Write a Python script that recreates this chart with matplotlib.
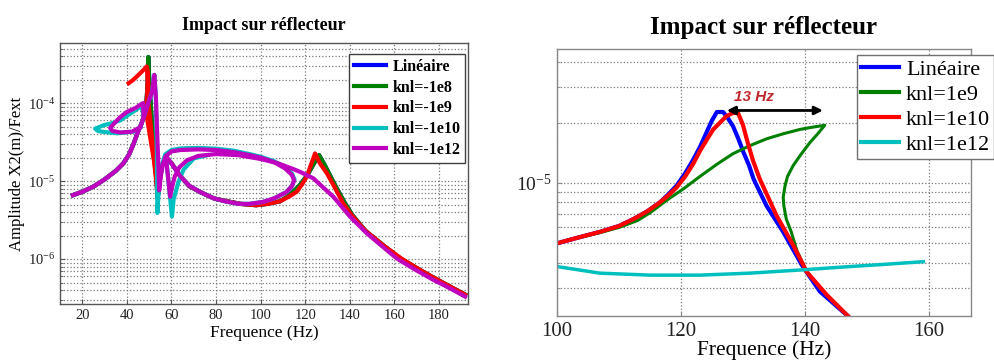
#!/usr/bin/env python3
"""
Impact sur reflecteur : amplitude X2/Fext vs frequence (two panels)
"""

import matplotlib
matplotlib.use('Agg')
import matplotlib.pyplot as plt
from matplotlib.ticker import NullFormatter, NullLocator, LogLocator
from matplotlib.lines import Line2D

plt.rcParams['font.family'] = ['Liberation Serif', 'DejaVu Serif']
plt.rcParams['mathtext.fontset'] = 'custom'
plt.rcParams['mathtext.rm'] = 'Liberation Serif'
plt.rcParams['mathtext.it'] = 'Liberation Serif:italic'
plt.rcParams['mathtext.bf'] = 'Liberation Serif:bold'

# ---------------- left panel data (knl negative) ----------------
left_labels = ['Linéaire', 'knl=-1e8', 'knl=-1e9', 'knl=-1e10', 'knl=-1e12']

# common rising part, below the first resonance
rise_f = [15.8, 20, 25, 30, 35, 38.5, 41, 43, 45, 46.5, 47.5, 48.5]
rise_a = [6.6e-6, 7.3e-6, 8.5e-6, 1.05e-5, 1.35e-5, 1.7e-5, 2.2e-5, 3.0e-5,
          4.3e-5, 5.4e-5, 6.6e-5, 8.0e-5]

# linear / knl=-1e8 (nearly the same path)
lin_f = [49.2, 49.6, 50.1, 51.0, 52.2, 53.3, 53.8, 54.5, 55.8, 57.5, 60, 64,
         68, 73, 79, 85, 91, 98, 103, 108.7, 113, 117.5, 121, 124, 126.2,
         128.5, 131, 134, 137.5, 141, 147, 155, 163, 172, 181, 191.7]
lin_a = [1.6e-4, 3.9e-4, 1.8e-4, 7e-5, 2.5e-5, 1e-5, 6e-6, 9e-6, 1.6e-5,
         2.0e-5, 1.7e-5, 1.15e-5, 8.6e-6, 7.2e-6, 6.0e-6, 5.5e-6, 5.1e-6,
         4.9e-6, 5.1e-6, 5.5e-6, 6.6e-6, 8.8e-6, 1.2e-5, 1.7e-5, 2.15e-5,
         1.65e-5, 1.2e-5, 8.2e-6, 5.4e-6, 3.7e-6, 2.3e-6, 1.5e-6, 1.0e-6,
         7.1e-7, 5.1e-7, 3.5e-7]

# knl=-1e9
red_top_f = [40.8, 42.5, 44.5, 46.5, 48.2, 48.9, 49.4, 49.6, 49.7, 50.5, 51.5,
             52.6, 53.5, 54.2]
red_top_a = [1.8e-4, 1.95e-4, 2.2e-4, 2.5e-4, 2.8e-4, 2.95e-4, 2.4e-4, 1.5e-4,
             1.0e-4, 6e-5, 3e-5, 1.4e-5, 8e-6, 8e-6]
red_leg_f = [48.5, 49.1, 49.3, 49.2]
red_leg_a = [8.0e-5, 1.3e-4, 2.0e-4, 2.6e-4]
red_f = [54.2, 55.8, 57.5, 60, 64, 68, 73, 79, 85, 91, 98, 103, 108.7, 113,
         116.2, 118.5, 120.7, 122.5, 124.4, 126.5, 129.7, 133, 137.1, 141, 147,
         155, 163, 172, 181, 191.7]
red_a = [8e-6, 1.6e-5, 2.0e-5, 1.7e-5, 1.15e-5, 8.6e-6, 7.2e-6, 6.0e-6,
         5.5e-6, 5.1e-6, 4.9e-6, 5.1e-6, 5.5e-6, 6.4e-6, 7.3e-6, 9.0e-6,
         1.14e-5, 1.6e-5, 2.26e-5, 1.7e-5, 1.26e-5, 8.5e-6, 5.1e-6, 3.6e-6,
         2.3e-6, 1.5e-6, 1.02e-6, 7.1e-7, 5.1e-7, 3.5e-7]

# knl=-1e12 (magenta)
mag_f = [49.3, 50.3, 51.3, 52.3, 53.0, 53.6, 54.2, 54.5, 55.3, 56.3, 57.5, 60,
         64, 72, 80, 88, 95, 100, 106, 111, 114, 115, 114, 111.5, 106, 101, 95,
         90, 84, 79, 73, 68, 64, 60.5, 58]
mag_a = [9.5e-5, 1.15e-4, 1.4e-4, 2.3e-4, 1.2e-4, 4e-5, 1.4e-5, 7.6e-6,
         1.2e-5, 1.7e-5, 2.1e-5, 2.4e-5, 2.5e-5, 2.55e-5, 2.5e-5, 2.35e-5,
         2.15e-5, 2.0e-5, 1.75e-5, 1.45e-5, 1.2e-5, 1.02e-5, 8.6e-6, 7.2e-6,
         6.0e-6, 5.4e-6, 5.1e-6, 5.1e-6, 5.5e-6, 6.0e-6, 7.2e-6, 8.7e-6,
         1.15e-5, 1.6e-5, 2.0e-5]
mag_tail_f = [57.5, 58.5, 59.4, 60.3, 61.5, 63.5, 67, 72, 80, 90, 100, 108,
              114, 118, 123.7, 128, 132.6, 140.1, 147.6, 154, 161, 169, 177.5,
              185, 191.7]
mag_tail_a = [2.0e-5, 1.1e-5, 6.3e-6, 8.5e-6, 1.15e-5, 1.5e-5, 1.85e-5,
              2.1e-5, 2.22e-5, 2.15e-5, 1.92e-5, 1.68e-5, 1.45e-5, 1.3e-5,
              1.08e-5, 8.3e-6, 6.3e-6, 3.5e-6, 2.14e-6, 1.5e-6, 1.02e-6,
              7.4e-7, 5.4e-7, 4.2e-7, 3.3e-7]
mag_loop_f = [47.5, 47.2, 44, 40, 37, 34.8, 32.5, 33.5, 37, 42.3, 46]
mag_loop_a = [6.6e-5, 1.0e-4, 8.7e-5, 7.7e-5, 6.6e-5, 5.7e-5, 4.8e-5, 4.4e-5,
              4.2e-5, 4.3e-5, 4.9e-5]

# knl=-1e10 (cyan)
cya_f = [49.3, 50.3, 51.3, 52.3, 53.0, 53.4, 53.7, 54.3, 55.0, 56.0, 57.2, 60,
         64, 72, 80, 88, 95, 100, 106, 111, 114, 115.2, 114, 111.5, 106, 101,
         95, 90, 84, 79, 73, 68, 64, 60.5, 58]
cya_a = [9.5e-5, 1.15e-4, 1.4e-4, 2.3e-4, 1.2e-4, 3e-5, 3.9e-6, 8e-6, 1.25e-5,
         1.7e-5, 2.2e-5, 2.5e-5, 2.62e-5, 2.66e-5, 2.6e-5, 2.45e-5, 2.22e-5,
         2.05e-5, 1.8e-5, 1.5e-5, 1.25e-5, 1.05e-5, 8.6e-6, 7.2e-6, 6.0e-6,
         5.4e-6, 5.1e-6, 5.1e-6, 5.5e-6, 6.0e-6, 7.2e-6, 8.7e-6, 1.15e-5,
         1.6e-5, 2.0e-5]
cya_tail_f = [57.5, 58.8, 60.2, 61.0, 61.7, 63.0, 65.4, 70, 76]
cya_tail_a = [2.1e-5, 9e-6, 3.5e-6, 6e-6, 6.9e-6, 9.5e-6, 1.4e-5, 1.95e-5,
              2.15e-5]
cya_loop_f = [47.5, 46.7, 42, 37, 33, 29.5, 25.8, 27, 28.8, 35.5, 43, 46]
cya_loop_a = [6.6e-5, 9.2e-5, 7.5e-5, 6.0e-5, 5.5e-5, 5.2e-5, 4.7e-5, 4.4e-5,
              4.3e-5, 4.1e-5, 4.3e-5, 4.9e-5]

# ---------------- right panel data (knl positive) ----------------
right_labels = ['Linéaire', 'knl=1e9', 'knl=1e10', 'knl=1e12']

r_lin_f = [100, 103, 106.9, 110, 112.3, 114.5, 116.6, 118, 119.3, 120.7, 122,
           123.1, 124.1, 125, 125.8, 126.8, 127.6, 128.4, 129.2, 130.1, 131,
           131.7, 133.8, 136.5, 139.5, 142.4, 146.7, 148.5]
r_lin_a = [5.0e-6, 5.3e-6, 5.7e-6, 6.1e-6, 6.6e-6, 7.2e-6, 8.0e-6, 8.8e-6,
           9.7e-6, 1.12e-5, 1.31e-5, 1.52e-5, 1.78e-5, 2.05e-5, 2.26e-5,
           2.26e-5, 2.1e-5, 1.92e-5, 1.68e-5, 1.42e-5, 1.22e-5, 1.05e-5,
           7.7e-6, 5.7e-6, 3.9e-6, 2.88e-6, 2.2e-6, 1.95e-6]

r_k9_f = [100, 103, 106.9, 110, 113, 115, 117.7, 120.5, 123.1, 125.8, 128.4,
          131, 133.8, 136.5, 139.2, 141.3, 143.2, 142, 140.8, 139.3, 138.1,
          137.2, 136.8, 136.5, 136.6, 137, 137.8, 138.7, 140.3, 143, 146.7,
          148.5]
r_k9_a = [5.0e-6, 5.3e-6, 5.65e-6, 6.0e-6, 6.5e-6, 7.1e-6, 8.2e-6, 9.4e-6,
          1.08e-5, 1.24e-5, 1.4e-5, 1.53e-5, 1.66e-5, 1.76e-5, 1.85e-5,
          1.9e-5, 1.94e-5, 1.75e-5, 1.59e-5, 1.38e-5, 1.22e-5, 1.08e-5,
          9.7e-6, 8.5e-6, 7.7e-6, 6.6e-6, 5.7e-6, 4.6e-6, 3.6e-6, 2.88e-6,
          2.2e-6, 1.95e-6]

r_k10_f = [100, 103, 106.9, 110, 112.3, 114.5, 116.6, 118, 119.3, 120.7, 122,
           123.1, 124.2, 125.2, 126.3, 127.3, 128.3, 129.2, 130, 130.6, 131.6,
           132.7, 135.4, 138.1, 140.3, 143.5, 147, 148.5]
r_k10_a = [5.0e-6, 5.3e-6, 5.7e-6, 6.1e-6, 6.6e-6, 7.2e-6, 8.0e-6, 8.7e-6,
           9.5e-6, 1.08e-5, 1.25e-5, 1.45e-5, 1.65e-5, 1.85e-5, 2.0e-5,
           2.15e-5, 2.23e-5, 2.24e-5, 1.95e-5, 1.66e-5, 1.3e-5, 1.05e-5,
           6.9e-6, 4.9e-6, 3.6e-6, 2.77e-6, 2.16e-6, 1.95e-6]

r_k12_f = [100, 106.9, 115, 123.1, 131.1, 139.2, 147.3, 153, 159.1]
r_k12_a = [3.83e-6, 3.55e-6, 3.47e-6, 3.47e-6, 3.55e-6, 3.68e-6, 3.83e-6,
           3.93e-6, 4.05e-6]

shift_start = 127.4
shift_end = 142.9
shift_level = 2.3e-5
shift_text = '13 Hz'

# MATLAB-like colours
C_BLUE = '#0000FF'
C_GREEN = '#008000'
C_RED = '#FF0000'
C_CYAN = '#00BFBF'
C_MAG = '#BF00BF'


def style_axes(ax, spine_color, tick_size):
    ax.set_yscale('log')
    ax.yaxis.set_minor_locator(LogLocator(base=10, subs=range(2, 10)))
    ax.yaxis.set_minor_formatter(NullFormatter())
    ax.xaxis.set_minor_locator(NullLocator())
    ax.grid(True, which='both', linestyle=':', color='#7a7a7a', linewidth=0.9)
    ax.tick_params(which='both', direction='in', colors=spine_color,
                   labelcolor='#222222', labelsize=tick_size)
    for s in ax.spines.values():
        s.set_color(spine_color)
        s.set_linewidth(1.0)


fig = plt.figure(figsize=(9.95, 3.63), dpi=100)

# ---------------- left panel ----------------
ax1 = fig.add_axes([60 / 995, 59 / 363, 408 / 995, 261 / 363])
style_axes(ax1, '#555555', 10.5)
lw = 3.0
ax1.plot(rise_f + lin_f, rise_a + lin_a, color=C_BLUE, lw=lw)
ax1.plot(rise_f + lin_f, rise_a + lin_a, color=C_GREEN, lw=lw)
ax1.plot(rise_f + red_f[:1], rise_a + red_a[:1], color=C_RED, lw=lw)
ax1.plot(red_leg_f, red_leg_a, color=C_RED, lw=lw)
ax1.plot(red_top_f, red_top_a, color=C_RED, lw=lw)
ax1.plot(red_f, red_a, color=C_RED, lw=lw)
ax1.plot(rise_f + cya_f, rise_a + cya_a, color=C_CYAN, lw=lw)
ax1.plot(cya_tail_f, cya_tail_a, color=C_CYAN, lw=lw)
ax1.plot(cya_loop_f, cya_loop_a, color=C_CYAN, lw=lw)
ax1.plot(mag_tail_f, mag_tail_a, color=C_MAG, lw=lw)
ax1.plot(rise_f + mag_f, rise_a + mag_a, color=C_MAG, lw=lw)
ax1.plot(mag_loop_f, mag_loop_a, color=C_MAG, lw=lw)

ax1.set_xlim(10, 193)
ax1.set_ylim(2.65e-7, 5.9e-4)
ax1.set_xticks(range(20, 181, 20))
ax1.set_title('Impact sur réflecteur', fontsize=13, fontweight='bold', pad=9)
ax1.set_xlabel('Frequence (Hz)', fontsize=12.5, labelpad=2)
ax1.set_ylabel('Amplitude X2(m)/Fext', fontsize=12, labelpad=2)

handles1 = [Line2D([], [], color=c, lw=lw)
            for c in [C_BLUE, C_GREEN, C_RED, C_CYAN, C_MAG]]
ax1.legend(handles1, left_labels, loc='upper right',
           bbox_to_anchor=(0.993, 0.958),
           prop={'family': 'Liberation Serif', 'weight': 'bold', 'size': 11.5},
           frameon=True, fancybox=False, edgecolor='#404040', framealpha=1,
           handlelength=2.0, handletextpad=0.4, labelspacing=0.3,
           borderpad=0.3, borderaxespad=0)

# ---------------- right panel ----------------
ax2 = fig.add_axes([557 / 995, 47 / 363, 414 / 995, 267 / 363])
style_axes(ax2, '#888888', 15)
ax2.tick_params(axis='x', pad=4)
ax2.tick_params(axis='y', labelsize=14)
ax2.plot(r_lin_f, r_lin_a, color=C_BLUE, lw=3.0)
ax2.plot(r_k9_f, r_k9_a, color=C_GREEN, lw=2.2)
ax2.plot(r_k10_f, r_k10_a, color=C_RED, lw=3.0)
ax2.plot(r_k12_f, r_k12_a, color=C_CYAN, lw=2.5)

ax2.annotate('', xy=(shift_start, shift_level), xytext=(shift_end, shift_level),
             arrowprops=dict(arrowstyle='<|-|>', color='black', lw=2.0,
                             mutation_scale=12, shrinkA=0, shrinkB=0))
ax2.text((shift_start + shift_end) / 2 - 3.3, 2.67e-5, shift_text,
         color='#C0282D', fontsize=11, fontstyle='italic', fontweight='bold',
         family='Liberation Sans', ha='center', va='center')

ax2.set_xlim(100, 166.8)
ax2.set_ylim(2.17e-6, 4.66e-5)
ax2.set_xticks([100, 120, 140, 160])
ax2.set_title('Impact sur réflecteur', fontsize=18, fontweight='bold', pad=11)
ax2.set_xlabel('Frequence (Hz)', fontsize=15.5, labelpad=0)

handles2 = [Line2D([], [], color=c, lw=3.0)
            for c in [C_BLUE, C_GREEN, C_RED, C_CYAN]]
ax2.legend(handles2, right_labels, loc='upper left',
           bbox_to_anchor=(857 / 995, 1 - 55 / 363),
           bbox_transform=fig.transFigure,
           prop={'family': 'Liberation Serif', 'size': 16},
           frameon=True, fancybox=False, edgecolor='#707070', framealpha=1,
           handlelength=1.7, handletextpad=0.3, labelspacing=0.2,
           borderpad=0.2, borderaxespad=0)

fig.savefig('out.png', dpi=100)
